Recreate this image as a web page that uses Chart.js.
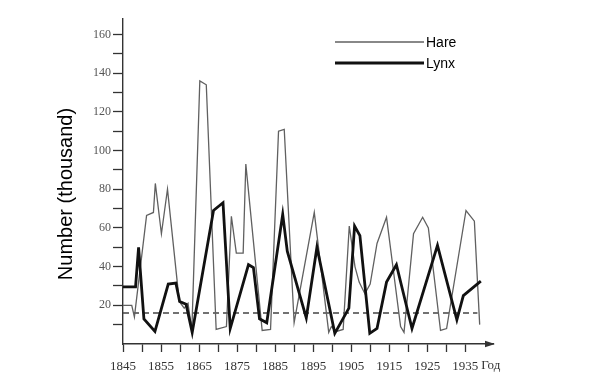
<!DOCTYPE html>
<html><head><meta charset="utf-8">
<script src="https://cdn.jsdelivr.net/npm/chart.js@4.4.0/dist/chart.umd.min.js"></script>
<style>html,body{margin:0;padding:0;background:#fff}#wrap{width:591px;height:390px}</style>
</head><body><div id="wrap"><canvas id="c" width="591" height="390"></canvas></div>
<script>
// ---- data ----
const seriesNames = ['Hare', 'Lynx'];
const hareYears = [1845, 1847.3, 1848, 1851.2, 1853, 1853.5, 1855.1, 1856.7, 1859.8, 1861.1, 1862.1, 1863.1, 1865.2, 1866.9, 1869.5, 1872.2, 1873.5, 1874.8, 1876.6, 1877.3, 1881.6, 1883.8, 1885.9, 1887.4, 1890, 1895.3, 1899.1, 1899.8, 1901.1, 1902.9, 1904.5, 1906, 1907.1, 1908.6, 1910, 1911.8, 1914.3, 1918, 1918.9, 1921.4, 1923.8, 1925.3, 1928.5, 1930.1, 1935.2, 1937.4, 1938.8];
const hareValues = [20, 20, 14, 66.5, 68, 83, 57, 80, 22, 18.5, 21, 7, 136, 134, 7.5, 9, 66, 47, 47, 93, 7, 7.5, 110, 111, 11, 68, 6, 9, 6.5, 7.5, 61, 40, 32, 26, 31, 52, 65.5, 9, 6, 57, 65.5, 60, 7, 8, 69, 63.5, 10];
const lynxYears = [1845, 1848.3, 1849.1, 1850.5, 1853.4, 1856.9, 1858.9, 1859.9, 1861.6, 1863.2, 1868.8, 1871.3, 1873.2, 1878, 1879.3, 1880.9, 1882.8, 1887, 1888.2, 1893.2, 1896, 1900.7, 1904.4, 1905.9, 1907.3, 1909.9, 1911.8, 1914.3, 1916.9, 1921, 1927.7, 1932.8, 1934.5, 1939.1];
const lynxValues = [29.5, 29.5, 50, 13, 6.5, 31, 31.5, 22, 20.5, 6, 69, 73, 8, 41, 39.5, 13, 11, 67, 48, 13.5, 50, 5.5, 18.5, 61, 56, 5.5, 8, 32, 41, 8, 51, 12.5, 25, 32.5];
const thresholdYears = [1845, 1938.2];
const thresholdValue = 16;
const xTickLabels = [1845, 1855, 1865, 1875, 1885, 1895, 1905, 1915, 1925, 1935];
const yTickLabels = [20, 40, 60, 80, 100, 120, 140, 160];
const yAxisTitle = 'Number (thousand)';
const xAxisTitle = 'Год';

const toPts = (xs, ys) => xs.map((x, i) => ({x: x, y: ys[i]}));

const AXIS = '#333';
const overlay = {
  id: 'overlay',
  afterDraw(chart) {
    const ctx = chart.ctx;
    const ca = chart.chartArea;
    const xs = chart.scales.x;
    ctx.save();
    // arrow head at the end of the x axis
    ctx.fillStyle = AXIS;
    ctx.beginPath();
    ctx.moveTo(ca.right + 2, ca.bottom);
    ctx.lineTo(ca.right - 8, ca.bottom - 3.2);
    ctx.lineTo(ca.right - 8, ca.bottom + 3.2);
    ctx.closePath();
    ctx.fill();
    // x axis word
    ctx.fillStyle = '#333';
    ctx.font = '13px "Liberation Serif"';
    ctx.textAlign = 'left';
    ctx.textBaseline = 'middle';
    ctx.fillText(xAxisTitle, xs.getPixelForValue(1935) + 16, 366);
    // y axis title
    ctx.save();
    ctx.translate(66, 194);
    ctx.rotate(-Math.PI / 2);
    ctx.fillStyle = '#000';
    ctx.font = '20px "Liberation Sans"';
    ctx.textAlign = 'center';
    ctx.textBaseline = 'middle';
    ctx.fillText(yAxisTitle, 0, 0);
    ctx.restore();
    // legend
    const rows = [{ds: chart.data.datasets[1], y: 42}, {ds: chart.data.datasets[0], y: 63}];
    rows.forEach(r => {
      ctx.strokeStyle = r.ds.borderColor;
      ctx.lineWidth = r.ds.borderWidth;
      ctx.beginPath();
      ctx.moveTo(335, r.y);
      ctx.lineTo(424, r.y);
      ctx.stroke();
      ctx.fillStyle = '#000';
      ctx.font = '14px "Liberation Sans"';
      ctx.textAlign = 'left';
      ctx.textBaseline = 'middle';
      ctx.fillText(r.ds.label, 426, r.y + 1);
    });
    ctx.restore();
  }
};

new Chart(document.getElementById('c'), {
  type: 'line',
  data: {
    datasets: [
      {label: seriesNames[1], data: toPts(lynxYears, lynxValues), borderColor: '#111', borderWidth: 2.8, pointRadius: 0, tension: 0, order: 0, borderJoinStyle: 'miter'},
      {label: seriesNames[0], data: toPts(hareYears, hareValues), borderColor: '#606060', borderWidth: 1.3, pointRadius: 0, tension: 0, order: 1},
      {label: 'threshold', data: toPts(thresholdYears, thresholdYears.map(() => thresholdValue)), borderColor: '#444', borderWidth: 1.5, borderDash: [6, 4], pointRadius: 0, order: 2}
    ]
  },
  options: {
    responsive: false,
    animation: false,
    devicePixelRatio: 1,
    layout: {padding: {top: 19, right: 98, left: 0, bottom: 0}},
    plugins: {legend: {display: false}, tooltip: {enabled: false}},
    scales: {
      x: {
        type: 'linear', min: 1845, max: 1942.3,
        border: {display: true, color: AXIS, width: 1.4},
        grid: {drawOnChartArea: false, drawTicks: true, tickLength: 8, tickColor: AXIS, tickWidth: 1.3},
        ticks: {
          stepSize: 5, autoSkip: false, maxRotation: 0, includeBounds: false, padding: 7,
          color: '#333', font: {family: 'Liberation Serif', size: 13},
          callback: (v) => { const r = Math.round(v); if (r > 1935) return null; return xTickLabels.includes(r) ? String(r) : ''; }
        },
        afterFit: (s) => { s.height = 46; }
      },
      y: {
        min: 0, max: 168,
        border: {display: true, color: AXIS, width: 1.4},
        grid: {drawOnChartArea: false, drawTicks: true, tickLength: 10, tickColor: AXIS, tickWidth: 1.3},
        ticks: {
          stepSize: 10, includeBounds: false, padding: 2,
          color: '#555', font: {family: 'Liberation Serif', size: 12},
          callback: (v) => { const r = Math.round(v); if (r === 0) return null; return yTickLabels.includes(r) ? String(r) : ''; }
        },
        afterFit: (s) => { s.width = 123; }
      }
    }
  },
  plugins: [overlay]
});
</script>
</body></html>
